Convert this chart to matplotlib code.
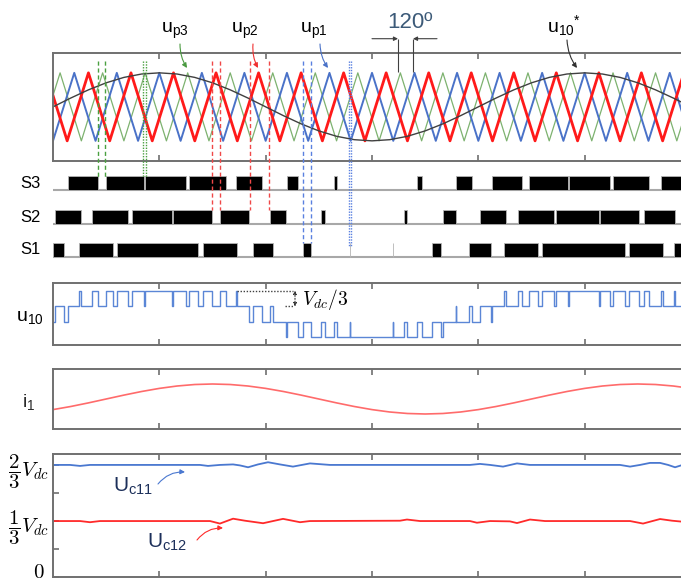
import numpy as np
import matplotlib
matplotlib.use('Agg')
from matplotlib import pyplot as plt
from matplotlib import transforms

plt.rcParams['font.family'] = ['Liberation Sans', 'DejaVu Sans']
plt.rcParams['mathtext.fontset'] = 'custom'
plt.rcParams['mathtext.rm'] = 'Liberation Sans'
plt.rcParams['mathtext.it'] = 'Liberation Sans:italic'
plt.rcParams['mathtext.bf'] = 'Liberation Sans:bold'

# x axis: electrical angle of the fundamental, degrees (ticks every 90)
# carrier vertices (triangles between -1 and +1)
up1_t = [0, 18, 36, 54, 72, 90, 108, 126, 144, 162, 180, 198, 216, 234, 252, 270,
         288, 306, 324, 342, 360, 378, 396, 414, 432, 450, 468, 486, 504, 522, 540]
up2_t = [-6, 12, 30, 48, 66, 84, 102, 120, 138, 156, 174, 192, 210, 228, 246, 264,
         282, 300, 318, 336, 354, 372, 390, 408, 426, 444, 462, 480, 498, 516, 534, 552]
up3_t = [-12, 6, 24, 42, 60, 78, 96, 114, 132, 150, 168, 186, 204, 222, 240, 258,
         276, 294, 312, 330, 348, 366, 384, 402, 420, 438, 456, 474, 492, 510, 528, 546]
up1_first, up2_first, up3_first = -1, 1, -1

# reference u10* and phase current, sampled every 15 deg
ref_t = list(range(0, 541, 15))
u10_ref = [0, 0.259, 0.5, 0.707, 0.866, 0.966, 1, 0.966, 0.866, 0.707, 0.5, 0.259,
           0, -0.259, -0.5, -0.707, -0.866, -0.966, -1, -0.966, -0.866, -0.707, -0.5, -0.259,
           0, 0.259, 0.5, 0.707, 0.866, 0.966, 1, 0.966, 0.866, 0.707, 0.5, 0.259, 0]
i1 = [-0.707, -0.5, -0.259, 0, 0.259, 0.5, 0.707, 0.866, 0.966, 1, 0.966, 0.866,
      0.707, 0.5, 0.259, 0, -0.259, -0.5, -0.707, -0.866, -0.966, -1, -0.966, -0.866,
      -0.707, -0.5, -0.259, 0, 0.259, 0.5, 0.707, 0.866, 0.966, 1, 0.966, 0.866, 0.707]

# switching states: on intervals (deg)
S3_on = [(13.0, 38.3), (44.9, 77.0), (77.9, 112.6), (115.4, 146.4), (154.9, 176.7),
         (197.8, 207.1), (238.1, 240.6), (308.4, 312.3), (340.9, 354.4), (371.6, 396.7),
         (402.9, 435.6), (436.5, 471.5), (474.2, 504.7), (514.4, 540.0)]
S2_on = [(1.7, 23.5), (32.8, 63.7), (66.6, 100.5), (101.8, 134.3), (141.4, 166.2),
         (183.7, 197.2), (226.6, 230.2), (297.1, 299.9), (329.8, 341.1), (361.4, 383.2),
         (393.3, 424.3), (425.7, 462.1), (463.0, 496.0), (500.5, 526.7)]
S1_on = [(0.0, 9.6), (22.3, 50.5), (54.4, 123.0), (127.2, 155.5), (169.0, 186.5),
         (211.9, 218.4), (251.4, 251.8), (287.5, 287.9), (320.5, 328.2), (352.4, 370.5),
         (381.7, 410.3), (414.1, 484.1), (487.8, 516.1), (525.9, 540.0)]

# dashed guides (intersections)
green_marks = [38.3, 44.0]
green_dots = [76.4, 78.5]
red_marks = [134.3, 141.1, 166.7, 183.1]
blue_marks = [211.3, 218.1]
blue_dots = [250.8, 252.2]

# capacitor voltages (fraction of Vdc)
uc11_t = [0, 14.4, 22.9, 31.3, 82.1, 124.4, 131.2, 141.3, 152.4, 158.3, 165.1, 173.5,
          182.0, 192.1, 203.1, 217.5, 234.4, 293.7, 352.9, 361.4, 369.9, 380.9, 392.7,
          403.7, 479.9, 488.4, 496.9, 505.3, 513.8, 520.6, 526.5, 531.5]
uc11 = [0.667, 0.667, 0.661, 0.667, 0.667, 0.667, 0.661, 0.667, 0.670, 0.664, 0.653, 0.670,
        0.683, 0.670, 0.657, 0.676, 0.667, 0.667, 0.667, 0.673, 0.667, 0.657, 0.676,
        0.667, 0.667, 0.657, 0.667, 0.679, 0.679, 0.667, 0.653, 0.664]
uc12_t = [0, 22.9, 31.3, 39.8, 124.4, 132.9, 141.3, 152.4, 162.5, 177.8, 194.7, 209.1,
          217.5, 293.7, 299.6, 310.6, 352.9, 358.8, 369.9, 386.8, 392.7, 403.7, 416.4,
          488.4, 499.4, 513.8, 524.0, 531.5]
uc12 = [0.333, 0.333, 0.326, 0.333, 0.333, 0.333, 0.318, 0.347, 0.335, 0.320, 0.346, 0.326,
        0.333, 0.335, 0.342, 0.333, 0.333, 0.323, 0.333, 0.331, 0.321, 0.342, 0.333,
        0.333, 0.318, 0.345, 0.335, 0.330]

W, H = 681, 582
fig = plt.figure(figsize=(W / 100, H / 100), dpi=100)
GREY = '#707070'


def panel(top, bottom):
    # rows given in pixels; axes run a little past the right edge (cropped like the original)
    ax = fig.add_axes([53 / W, (H - bottom) / H, 638 / W, (bottom - top) / H])
    ax.set_xlim(0, 540)
    return ax


def boxed(ax):
    for s in ax.spines.values():
        s.set_color(GREY)
        s.set_linewidth(1.4)
    ax.set_xticks(np.arange(90, 540, 90))
    ax.tick_params(axis='x', direction='in', top=True, bottom=True, length=4,
                   width=1.2, color=GREY, labelbottom=False)
    ax.set_yticks([])


def zigzag(t, first):
    return [first if k % 2 == 0 else -first for k in range(len(t))]


# carriers and reference
ax_car = panel(53, 160.7)
boxed(ax_car)
ax_car.set_ylim(-1.584, 1.584)
ax_car.plot(up3_t, zigzag(up3_t, up3_first), color='#7db26f', lw=0.9)
ax_car.plot(up1_t, zigzag(up1_t, up1_first), color='#4a72c8', lw=1.4)
ax_car.plot(up2_t, zigzag(up2_t, up2_first), color='#ff1a1a', lw=2.0)
ax_car.plot(ref_t, u10_ref, color='#404040', lw=1.0)

# switching signals
ax_sw = panel(169.7, 262.4)
ax_sw.set_ylim(-0.15, 2.6)
ax_sw.axis('off')
for row, iv in enumerate([S1_on, S2_on, S3_on]):
    ax_sw.axhline(row, color='#a8a8a8', lw=1.5, zorder=1)
    ax_sw.broken_barh([(a, b - a) for a, b in iv], (row, 0.415), facecolors='black',
                      edgecolors='#b4b4b4', linewidth=0.6, zorder=2)

# u10 = (S1 + S2 + S3) * Vdc / 3
sets = [S1_on, S2_on, S3_on]
edges = np.unique(np.concatenate([[0, 540]] + [np.ravel(iv) for iv in sets]))
mids = (edges[:-1] + edges[1:]) / 2
count = np.zeros(len(mids))
for iv in sets:
    count += np.array([any(a <= m < b for a, b in iv) for m in mids])
ax_u = panel(283, 345)
boxed(ax_u)
ax_u.set_ylim(-0.55 / 3, 3.55 / 3)
ax_u.step(edges, np.append(count, count[-1]) / 3, where='post', color='#5b86d6', lw=1.0)

# phase current
ax_i = panel(369, 429)
boxed(ax_i)
ax_i.set_ylim(-2, 2)
ax_i.plot(ref_t, i1, color='#ff6b6b', lw=1.2)

# capacitor voltages
ax_uc = panel(454, 577)
boxed(ax_uc)
ax_uc.set_ylim(0, 0.732)
ax_uc.set_yticks([0, 1 / 6, 1 / 3, 1 / 2, 2 / 3])
ax_uc.set_yticklabels(['', '', r'$\dfrac{1}{3}V_{dc}$', '', r'$\dfrac{2}{3}V_{dc}$'], fontsize=15)
for lab in ax_uc.get_yticklabels():
    lab.set_math_fontfamily('cm')
ax_uc.tick_params(axis='y', direction='in', left=True, length=4, width=1.2, color=GREY, pad=3)
ax_uc.plot(uc11_t, uc11, color='#4a78d0', lw=1.3)
ax_uc.plot(uc12_t, uc12, color='#ff2a2a', lw=1.3)

# overlay in pixel coordinates for labels and guides
ov = fig.add_axes([0, 0, 1, 1], zorder=10)
ov.set_xlim(0, W)
ov.set_ylim(H, 0)
ov.axis('off')
mark = transforms.blended_transform_factory(ax_car.transData, ov.transData)
ov.vlines(green_marks, 61, 177, colors='#4aa040', linestyles=(0, (3, 2)), lw=1, transform=mark)
ov.vlines(green_dots, 61, 177, colors='#4aa040', linestyles=(0, (1, 1)), lw=1, transform=mark)
ov.vlines(red_marks, 61, 210, colors='#f04848', linestyles=(0, (3, 2)), lw=1, transform=mark)
ov.vlines(blue_marks, 61, 243, colors='#5a80e0', linestyles=(0, (3, 2)), lw=1, transform=mark)
ov.vlines(blue_dots, 61, 246, colors='#5a80e0', linestyles=(0, (1, 1)), lw=1, transform=mark)


def label(x, y, txt, tail, head, color, size=14, tcolor='black', rad=0.15):
    ov.text(x, y, txt, fontsize=size, ha='center', va='center', color=tcolor)
    ov.annotate('', xy=head, xytext=tail,
                arrowprops=dict(arrowstyle='-|>', color=color, lw=0.8, mutation_scale=7,
                                shrinkA=0, shrinkB=0, connectionstyle='arc3,rad=%s' % rad))


label(175, 31, r'$\mathregular{u_{p3}}$', (180, 44), (187, 68), '#4a9a40')
label(245, 31, r'$\mathregular{u_{p2}}$', (253, 44), (258, 68), '#f03030')
label(314, 31, r'$\mathregular{u_{p1}}$', (320, 44), (328, 68), '#4a72c8')
label(564, 26, r'$\mathregular{u_{10}{}^{*}}$', (567, 40), (577, 68), '#303030')

# 120 deg bracket
ov.text(410, 22, '120º', fontsize=16, ha='center', va='center', color='#3c5a78')
ov.vlines([398, 413], 38.7, 72, colors='#404040', lw=0.8)
for a, b in [((372, 38.7), (398, 38.7)), ((437, 38.7), (413, 38.7))]:
    ov.annotate('', xy=b, xytext=a, arrowprops=dict(arrowstyle='-|>', color='#404040', lw=0.8,
                                                    mutation_scale=6, shrinkA=0, shrinkB=0))

# Vdc/3 step marker
ov.hlines(290.7, 236.7, 293.3, colors='#404040', linestyles=(0, (1, 1.2)), lw=1)
ov.hlines(306, 285, 293.3, colors='#404040', linestyles=(0, (1, 1.2)), lw=1)
ov.annotate('', xy=(295, 290.5), xytext=(295, 306.5),
            arrowprops=dict(arrowstyle='<|-|>', color='#303030', lw=0.8, mutation_scale=5,
                            shrinkA=0, shrinkB=0, linestyle=':'))
ov.text(302, 299, r'$V_{dc}/3$', fontsize=14, ha='left', va='center', math_fontfamily='cm')

# panel names
for y, s in [(183, 'S3'), (217, 'S2'), (250, 'S1')]:
    ov.text(30, y, s, fontsize=12, ha='center', va='center')
ov.text(30, 317, r'$\mathregular{u_{10}}$', fontsize=14, ha='center', va='center')
ov.text(29, 402, r'$\mathregular{i_{1}}$', fontsize=14, ha='center', va='center', color='#2a2a2a')
ov.text(45, 573, r'$0$', fontsize=15, ha='right', va='center', math_fontfamily='cm')

label(133, 486, r'$\mathregular{U_{c11}}$', (158, 484), (185, 472), '#4a78d0',
      size=15, tcolor='#1c2f5a', rad=-0.25)
label(167, 542, r'$\mathregular{U_{c12}}$', (197, 540), (223, 528), '#ff2a2a',
      size=15, tcolor='#1c2f5a', rad=-0.25)

fig.savefig('out.png', dpi=100)
